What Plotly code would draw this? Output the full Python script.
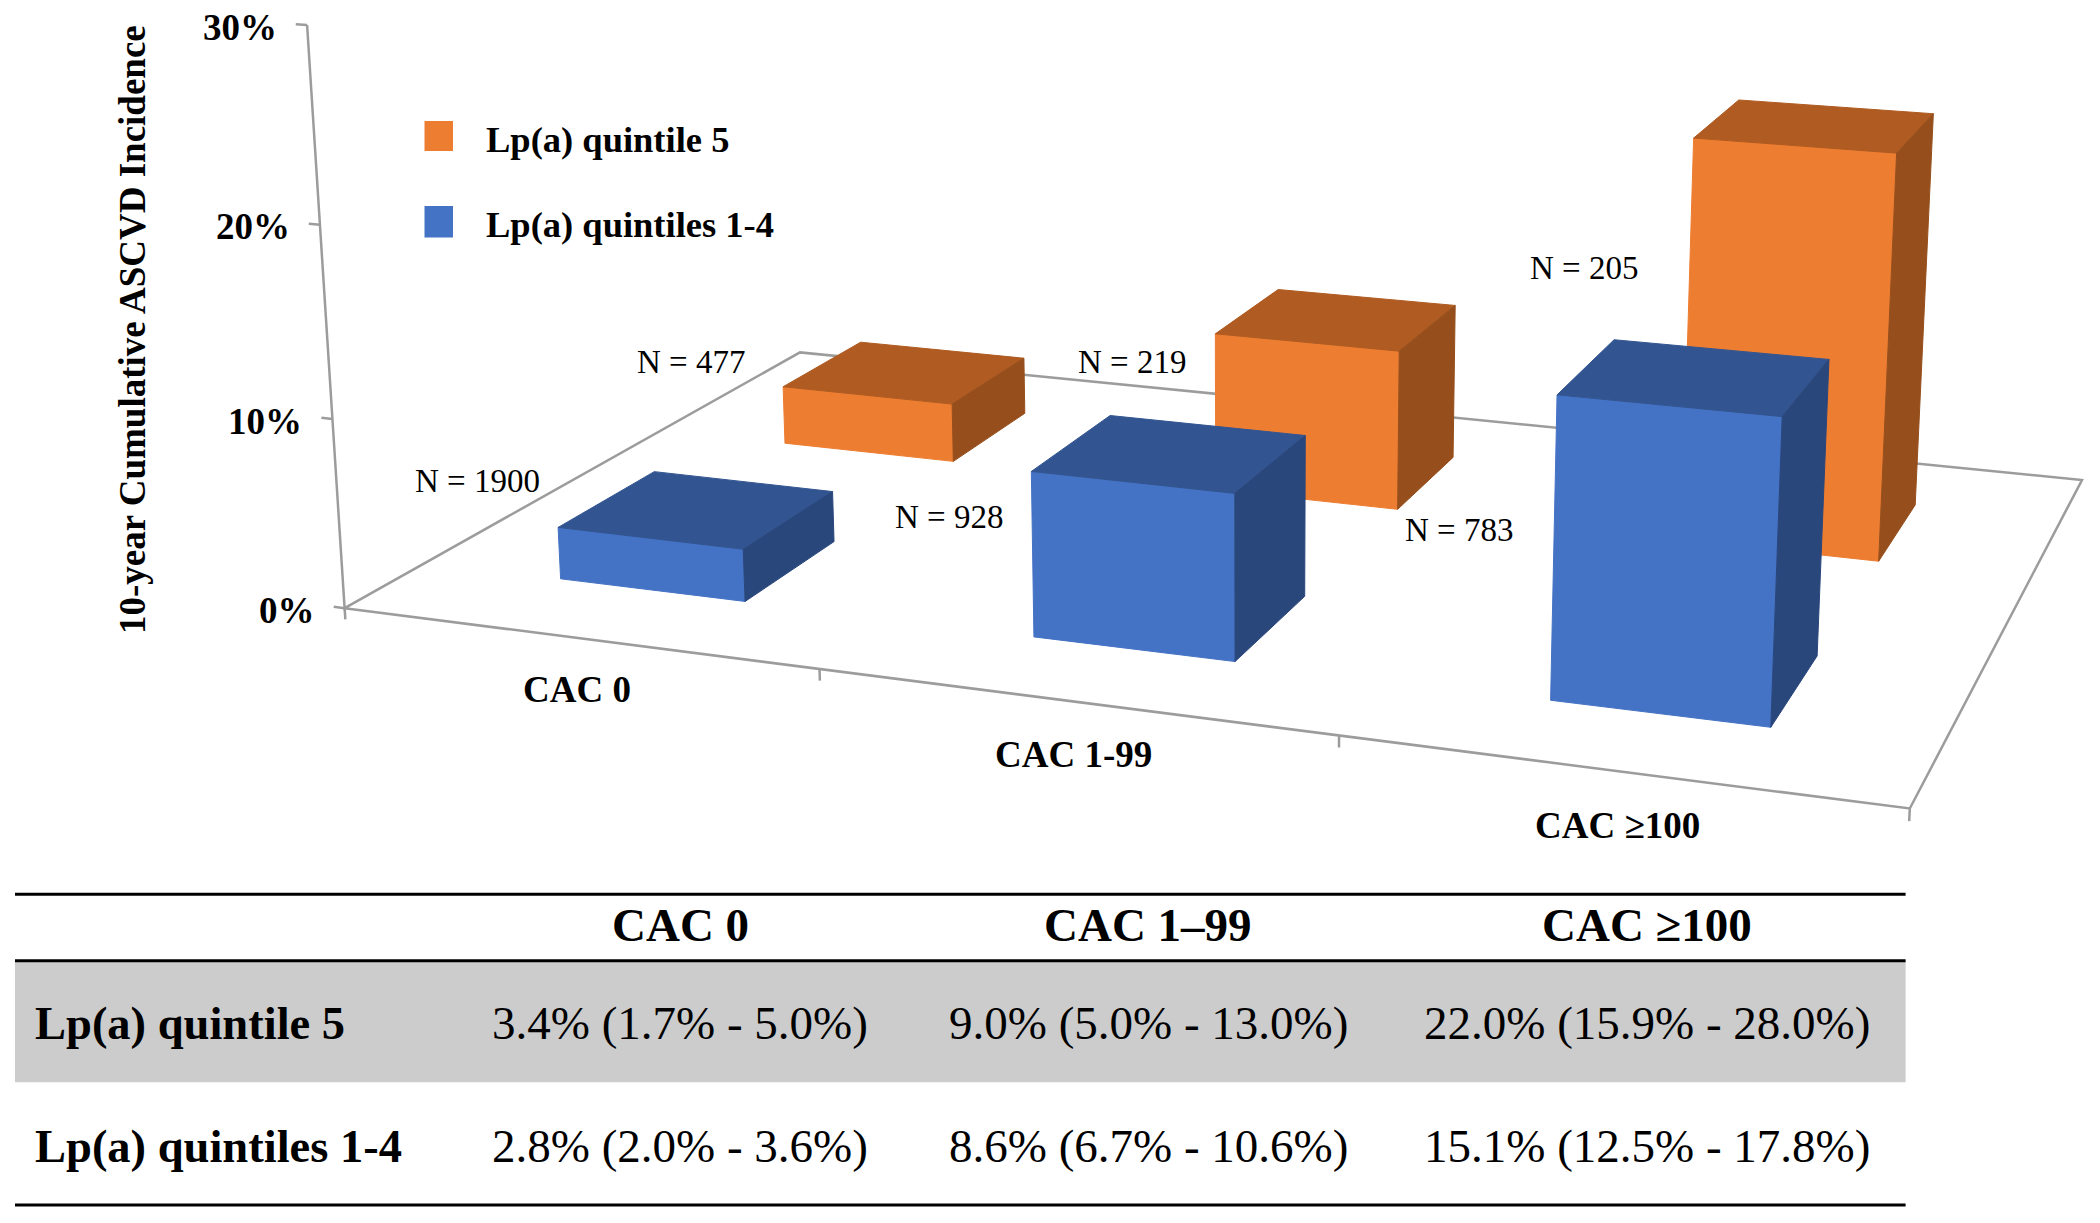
import numpy as np
import plotly.graph_objects as go

# ---------- data ----------
categories = ["CAC 0", "CAC 1-99", "CAC ≥100"]
table_headers = ["CAC 0", "CAC 1–99", "CAC ≥100"]
series_names = ["Lp(a) quintile 5", "Lp(a) quintiles 1-4"]
q5_incidence = [3.4, 9.0, 22.0]
q5_low = [1.7, 5.0, 15.9]
q5_high = [5.0, 13.0, 28.0]
q14_incidence = [2.8, 8.6, 15.1]
q14_low = [2.0, 6.7, 12.5]
q14_high = [3.6, 10.6, 17.8]
q5_n = [477, 219, 205]
q14_n = [1900, 928, 783]
z_ticks = [0, 10, 20, 30]
y_title = "10-year Cumulative ASCVD Incidence"

# ---------- 3-D scene: perspective from (category, depth, percent) to picture pixels ----------
PROJECTION = np.array([
    [439.75, 322.981, -1.65556, 344.6],
    [32.0596, -85.9286, -19.4731, 608.2],
    [-0.0429277, 0.119102, -0.00131999, 1.0],
])
N_CAT, N_DEPTH = 3, 2
BAR_HALF = 0.2


def proj(x, y, z):
    q = PROJECTION @ np.array([x, y, z, 1.0])
    return q[0] / q[2], q[1] / q[2]


def polys(faces):
    xs, ys = [], []
    for face in faces:
        pts = [proj(*p) for p in face]
        pts.append(pts[0])
        xs += [p[0] for p in pts] + [None]
        ys += [p[1] for p in pts] + [None]
    return xs, ys


def bar_faces(values, depth):
    front, top, side = [], [], []
    for i, v in enumerate(values):
        x0, x1 = i + 0.5 - BAR_HALF, i + 0.5 + BAR_HALF
        y0, y1 = depth - BAR_HALF, depth + BAR_HALF
        front.append([(x0, y0, 0), (x1, y0, 0), (x1, y0, v), (x0, y0, v)])
        top.append([(x0, y0, v), (x1, y0, v), (x1, y1, v), (x0, y1, v)])
        side.append([(x1, y0, 0), (x1, y1, 0), (x1, y1, v), (x1, y0, v)])
    return front, top, side


GRAY = "#9c9c9c"
SERIF = "Liberation Serif"
fig = go.Figure()

# floor outline and axis lines
lx, ly = [], []
for seg in [[(0, 0, 0), (N_CAT, 0, 0), (N_CAT, N_DEPTH, 0), (0, N_DEPTH, 0), (0, 0, 0), (0, 0, z_ticks[-1])]]:
    for p in seg:
        a = proj(*p)
        lx.append(a[0]); ly.append(a[1])
    lx.append(None); ly.append(None)
for z in z_ticks:
    for p in [(-0.024, 0, z), (0, 0, z)]:
        a = proj(*p)
        lx.append(a[0]); ly.append(a[1])
    lx.append(None); ly.append(None)
for i in range(N_CAT + 1):
    for p in [(i, 0, 0), (i, 0, -0.6)]:
        a = proj(*p)
        lx.append(a[0]); ly.append(a[1])
    lx.append(None); ly.append(None)
fig.add_trace(go.Scatter(x=lx, y=ly, mode="lines", line=dict(color=GRAY, width=2.5), hoverinfo="skip", name="axes"))

# bars: back row first, then the front row
for name, values, depth, colours in [
    (series_names[0], q5_incidence, 1.5, ("#ED7D31", "#AF5B21", "#964F1C")),
    (series_names[1], q14_incidence, 0.5, ("#4472C4", "#325591", "#2A477C")),
]:
    for faces, col in zip(bar_faces(values, depth), colours):
        xs, ys = polys(faces)
        fig.add_trace(go.Scatter(x=xs, y=ys, mode="lines", fill="toself", fillcolor=col,
                                 line=dict(color=col, width=1), name=name, hoverinfo="skip"))

ann = []


def text(x, y, s, size, bold=False, xanchor="center", **kw):
    ann.append(dict(x=x, y=y, xref="x", yref="y", text=f"<b>{s}</b>" if bold else s, showarrow=False,
                    xanchor=xanchor, yanchor="middle",
                    font=dict(family=SERIF, size=size, color="black"), **kw))


# axis labels
for z in z_ticks:
    px, py = proj(0, 0, z)
    text(px - 28, py + 2, f"{z}%", 37, True, xanchor="right")
for i, c in enumerate(categories):
    px, py = proj(i + 0.5, 0, 0)
    text(px, py + 51.5 + 1.5 * i, c, 37, True)
text(132, 330, y_title, 37, True, textangle=-90)

# N labels
N_POS_Q5 = [(691, 362), (1131.5, 362), (1584, 268)]
N_POS_Q14 = [(477, 481), (949, 517), (1459, 530)]
for n, (px, py) in zip(q5_n + q14_n, N_POS_Q5 + N_POS_Q14):
    text(px, py, f"N = {n}", 33)

# legend
shapes = []
for name, col, (y0, y1) in zip(series_names, ["#ED7D31", "#4472C4"], [(121, 151), (206, 237.5)]):
    shapes.append(dict(type="rect", xref="x", yref="y", x0=424.5, x1=453, y0=y0, y1=y1,
                       fillcolor=col, line=dict(width=0), layer="above"))
    text(484, (y0 + y1) / 2 + 3, name, 36.5, True, xanchor="left")

# table
TABLE_L, TABLE_R = 15, 1905.6
RULES = [894.3, 960.7, 1205]
shapes.append(dict(type="rect", xref="x", yref="y", x0=TABLE_L, x1=TABLE_R, y0=960.7, y1=1082.3,
                   fillcolor="#CCCCCC", line=dict(width=0), layer="below"))
for ry in RULES:
    shapes.append(dict(type="line", xref="x", yref="y", x0=TABLE_L, x1=TABLE_R, y0=ry, y1=ry,
                       line=dict(color="black", width=3)))
COLS = [680, 1148, 1647]
ROWS = [1023, 1146]
for cx, h in zip(COLS, table_headers):
    text(cx, 925, h, 47, True)
for ry, name, est, lo, hi in [
    (ROWS[0], series_names[0], q5_incidence, q5_low, q5_high),
    (ROWS[1], series_names[1], q14_incidence, q14_low, q14_high),
]:
    text(33, ry, name, 46.5, True, xanchor="left")
    for cx, e, l, u in zip(COLS, est, lo, hi):
        text(cx, ry, f"{e:.1f}% ({l:.1f}% - {u:.1f}%)", 47)

fig.update_layout(width=2100, height=1223, margin=dict(l=0, r=0, t=0, b=0), showlegend=False,
                  paper_bgcolor="white", plot_bgcolor="white", annotations=ann, shapes=shapes,
                  xaxis=dict(range=[0, 2100], visible=False, fixedrange=True),
                  yaxis=dict(range=[1223, 0], visible=False, fixedrange=True))
fig.write_html("out.html", config=dict(displayModeBar=False),
               post_script="document.body.style.margin='0';document.documentElement.style.overflow='hidden';")
